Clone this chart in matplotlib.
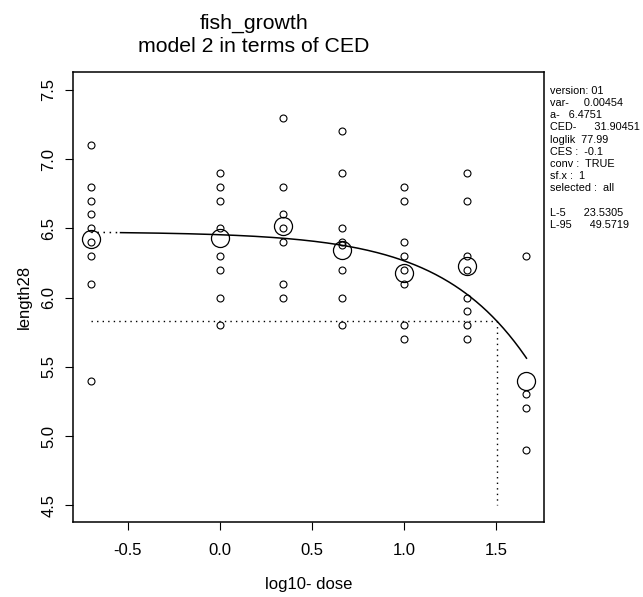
import numpy as np
import matplotlib
matplotlib.use("Agg")
import matplotlib.pyplot as plt

plt.rcParams['font.family'] = ['Liberation Sans', 'DejaVu Sans']

# log10 dose levels
log_dose = [-0.699, 0.0, 0.342, 0.663, 1.0, 1.342, 1.663]
# individual observations per dose group
obs = [
    [7.1, 6.8, 6.7, 6.6, 6.5, 6.4, 6.3, 6.1, 5.4],
    [6.9, 6.8, 6.7, 6.5, 6.3, 6.2, 6.0, 5.8],
    [7.3, 6.8, 6.6, 6.5, 6.4, 6.1, 6.0],
    [7.2, 6.9, 6.5, 6.4, 6.38, 6.2, 6.0, 5.8],
    [6.8, 6.7, 6.4, 6.3, 6.2, 6.1, 5.8, 5.7],
    [6.9, 6.7, 6.3, 6.2, 6.0, 5.9, 5.8, 5.7],
    [6.3, 5.3, 5.2, 4.9],
]
# group means (large circles)
group_means = [6.42, 6.43, 6.52, 6.34, 6.18, 6.23, 5.40]

# model parameters
a_par = 6.4751
CED = 31.90451
CES = -0.1
curve_start_log = -0.54

info_lines = ["version: 01", "var-     0.00454", "a-   6.4751", "CED-      31.90451",
              "loglik  77.99", "CES :  -0.1", "conv :  TRUE", "sf.x :  1",
              "selected :  all", "", "L-5      23.5305", "L-95      49.5719"]

W, H = 643, 597
fig = plt.figure(figsize=(W/100, H/100), dpi=100)
ax = fig.add_axes([73/W, 1-522/H, (544-73)/W, (522-72)/H])

def model(ld):
    return a_par * (1 + CES) ** (10 ** np.asarray(ld) / CED)

for x, ys in zip(log_dose, obs):
    ax.plot([x]*len(ys), ys, 'o', mfc='none', mec='black', ms=5.0, mew=0.8)
ax.plot(log_dose, group_means, 'o', mfc='none', mec='black', ms=13, mew=0.9)

xs = np.linspace(curve_start_log, log_dose[-1], 300)
ax.plot(xs, model(xs), color='black', lw=1.1)
xd = np.linspace(log_dose[0], curve_start_log, 20)
ax.plot(xd, model(xd), color='black', lw=1.1, ls=(0, (1, 3)))

y_ced = a_par * (1 + CES)
lx_ced = np.log10(CED)
ax.plot([log_dose[0], lx_ced], [y_ced, y_ced], color='black', lw=1, ls=(0, (1, 3)))
ax.plot([lx_ced, lx_ced], [y_ced, 4.5], color='black', lw=1, ls=(0, (1, 3)))

ax.set_xlim(-0.798, 1.758)
ax.set_ylim(4.379, 7.629)
ax.set_xticks([-0.5, 0.0, 0.5, 1.0, 1.5])
ax.set_xticklabels(["-0.5", "0.0", "0.5", "1.0", "1.5"])
ax.set_yticks([4.5, 5.0, 5.5, 6.0, 6.5, 7.0, 7.5])
ax.set_yticklabels(["4.5", "5.0", "5.5", "6.0", "6.5", "7.0", "7.5"], rotation=90, va='center')
ax.tick_params(direction='out', length=5.8, width=0.8, labelsize=12)
ax.tick_params(axis='x', pad=9)
ax.tick_params(axis='y', pad=6)
for s in ax.spines.values():
    s.set_linewidth(1.1)

cx = (73 + 544) / 2 / W
tx = 254 / W
fig.text(cx, 1-589/H, "log10- dose", ha='center', va='baseline', fontsize=12)
fig.text(24/W, 1-297/H, "length28", ha='center', va='center', rotation=90, fontsize=12)
fig.text(tx, 1-29/H, "fish_growth", ha='center', va='baseline', fontsize=15.3)
fig.text(tx, 1-52/H, "model 2 in terms of CED", ha='center', va='baseline', fontsize=15.3)

for i, line in enumerate(info_lines):
    if line:
        fig.text(550/W, 1-(90.7 + 12.2*i)/H, line, ha='left', va='center', fontsize=7.8)

fig.savefig("out.png", dpi=100)
